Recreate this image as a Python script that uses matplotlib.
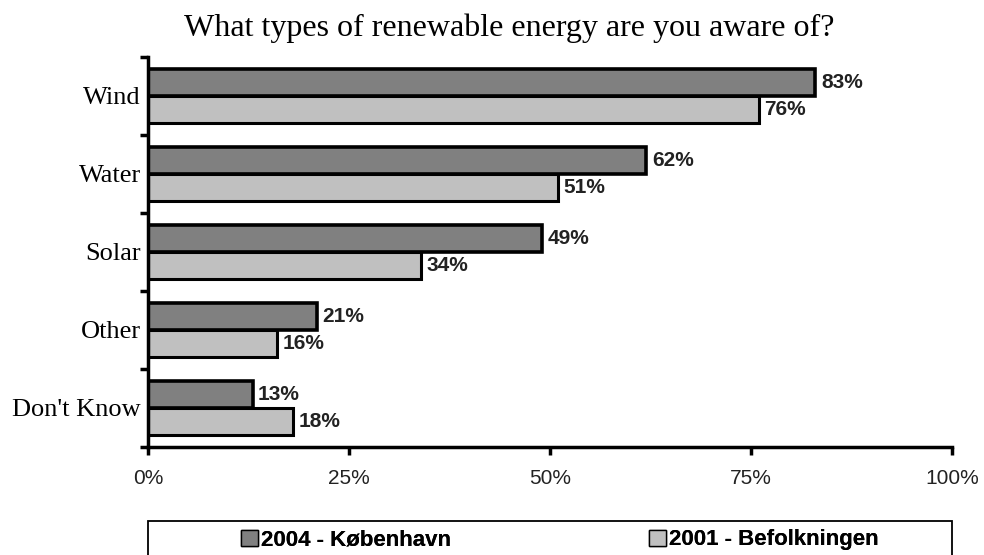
import matplotlib
matplotlib.use("Agg")
import matplotlib.pyplot as plt
from matplotlib.patches import Rectangle
import numpy as np

categories = ["Wind", "Water", "Solar", "Other", "Don't Know"]
kbh_2004 = [83, 62, 49, 21, 13]
pop_2001 = [76, 51, 34, 16, 18]
series_labels = ["2004 - København", "2001 - Befolkningen"]
x_ticks = [0, 25, 50, 75, 100]
x_tick_labels = ["0%", "25%", "50%", "75%", "100%"]

dark = "#808080"
light = "#c0c0c0"
W, H = 984, 555

fig = plt.figure(figsize=(W / 100, H / 100), dpi=100)
ax = fig.add_axes([148 / W, 1 - 447 / H, (952 - 148) / W, (447 - 57) / H])

y = np.arange(len(categories))
h = 0.34
b1 = ax.barh(y - h / 2, kbh_2004, height=h, color=dark, edgecolor="black",
             linewidth=2.6, label=series_labels[0])
b2 = ax.barh(y + h / 2, pop_2001, height=h, color=light, edgecolor="black",
             linewidth=2.2, label=series_labels[1])

for bars, vals in ((b1, kbh_2004), (b2, pop_2001)):
    for rect, v in zip(bars, vals):
        ax.annotate(f"{v}%", (v, rect.get_y() + rect.get_height() / 2),
                    xytext=(4, 0), textcoords="offset points",
                    ha="left", va="center", fontsize=15, fontweight="bold",
                    family="Liberation Sans", color="#222222")

ax.set_xlim(0, 100)
ax.set_ylim(len(categories) - 0.5, -0.5)
ax.set_xticks(x_ticks)
ax.set_xticklabels(x_tick_labels, family="Liberation Sans", fontsize=15,
                   color="#222222")
ax.set_yticks(y)
ax.set_yticklabels(categories, family="Liberation Serif", fontsize=19)
ax.set_yticks(np.arange(len(categories) + 1) - 0.5, minor=True)
ax.tick_params(axis="y", which="major", length=0, pad=5)
ax.tick_params(axis="y", which="minor", length=6, width=2.5, direction="out")
ax.tick_params(axis="x", which="major", length=6, width=2.5, direction="out", pad=10)

for s in ("top", "right"):
    ax.spines[s].set_visible(False)
for s in ("left", "bottom"):
    ax.spines[s].set_linewidth(2.5)

fig.text(509 / W, 1 - 28 / H, "What types of renewable energy are you aware of?",
         ha="center", va="center", family="Liberation Serif", fontsize=23)

# legend frame spanning the plot width, running off the bottom edge
fig.patches.append(Rectangle((148 / W, -0.05), (952 - 148) / W, 0.05 + (H - 521) / H,
                             transform=fig.transFigure, facecolor="white",
                             edgecolor="black", linewidth=1.3))

leg_font = {"family": "Liberation Sans", "size": 16, "weight": "bold"}
for xpix, handle, lab in ((241, b1, series_labels[0]), (649, b2, series_labels[1])):
    leg = fig.legend(handles=[handle], labels=[lab], loc="center left",
                     bbox_to_anchor=(xpix / W, 1 - 540 / H), frameon=False,
                     borderpad=0, borderaxespad=0, handlelength=0.75,
                     handleheight=0.75, handletextpad=0.15, prop=leg_font)
    for patch in leg.get_patches():
        patch.set_linewidth(1.0)
    fig.add_artist(leg)

fig.savefig("out.png", dpi=100)
